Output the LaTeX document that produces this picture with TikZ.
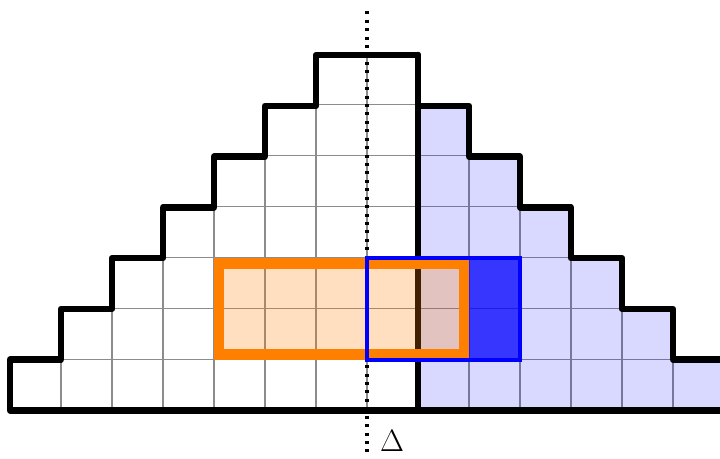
\documentclass[tikz,border=0pt]{standalone}
\begin{document}
\begin{tikzpicture}[x=1cm,y=0.9958cm,
  gridline/.style={draw=gray!90, line width=0.9pt},
  outline/.style={draw=black, line width=3.6pt, line join=round, line cap=round},
  orangebox/.style={draw=orange, line width=5.9pt, fill=orange, fill opacity=0.25, draw opacity=1},
  bluebox/.style={draw=blue, line width=2.3pt},
  axisline/.style={draw=black, line width=1.7pt, dash pattern=on 1.7pt off 3pt}]
\useasboundingbox (-0.196,-0.955) rectangle (13.922,8.083);
\def\stairs{(0,0) -- (0,1) -- (1,1) -- (1,2) -- (2,2) -- (2,3) -- (3,3) -- (3,4) -- (4,4) -- (4,5) -- (5,5) -- (5,6) -- (6,6) -- (6,7) -- (8,7) -- (8,6) -- (9,6) -- (9,5) -- (10,5) -- (10,4) -- (11,4) -- (11,3) -- (12,3) -- (12,2) -- (13,2) -- (13,1) -- (14,1) -- (14,0) -- cycle}
% grid inside the staircase
\begin{scope}
  \clip \stairs;
  \draw[gridline] (0,0) grid (14,7);
\end{scope}
% lavender right half
\fill[blue, opacity=0.15] (8,0) -- (8,6) -- (9,6) -- (9,5) -- (10,5) -- (10,4) -- (11,4) -- (11,3) -- (12,3) -- (12,2) -- (13,2) -- (13,1) -- (14,1) -- (14,0) -- cycle;
% solid blue cells
\fill[blue, opacity=0.75] (9,1) rectangle (10,3);
% dotted axis
\coordinate (axtop) at (7,7.86);
\coordinate (axbot) at (7,-0.84);
\draw[axisline] (axtop) -- (axbot);
% staircase outline
\draw[outline] \stairs;
\draw[outline] (8,0) -- (8,7);
% orange rectangle
\draw[orangebox] (4.1,1.1) rectangle (8.9,2.9);
% blue rectangle
\draw[bluebox] (7,1) rectangle (10,3);
% label
\node (delta) at (7.49,-0.6) {\fontsize{18}{20}\selectfont$\Delta$};
\end{tikzpicture}
\end{document}
